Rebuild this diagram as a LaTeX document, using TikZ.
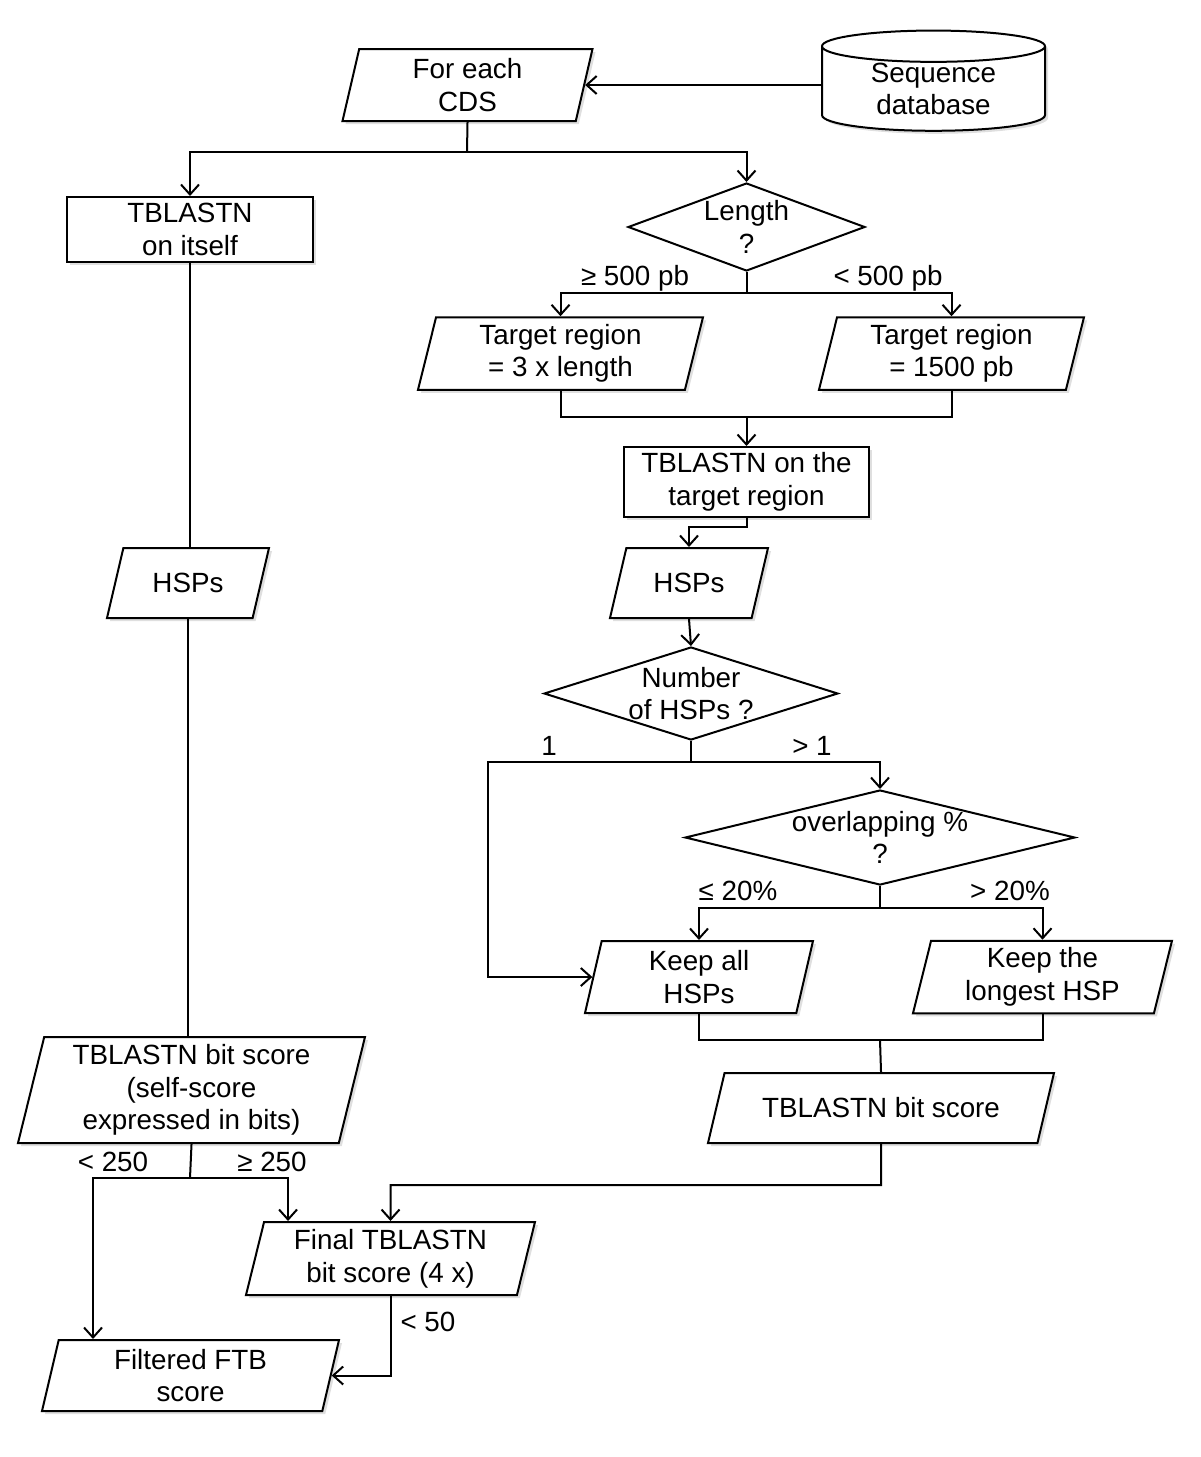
\documentclass[tikz,border=0pt]{standalone}
\usepackage{fontspec}
\setmainfont{Liberation Sans}
\usetikzlibrary{shapes.geometric,arrows.meta,shadows}

\begin{document}
\begin{tikzpicture}[x=0.5pt, y=-0.5pt,
    font=\fontsize{13.9}{16.3}\selectfont,
    every node/.style={align=center, inner sep=0pt},
    shade/.style={drop shadow={shadow xshift=1.5pt, shadow yshift=-1.5pt, opacity=0.25}},
    box/.style={draw, line width=1pt, fill=white, shade, rectangle},
    para/.style={draw, line width=1pt, fill=white, shade, trapezium,
        trapezium left angle=76, trapezium right angle=104,
        trapezium stretches body, inner xsep=0pt, inner ysep=3.5pt},
    para1/.style={para, inner ysep=11.5pt},
    decide/.style={draw, line width=1pt, fill=white, diamond,
        label={[align=center]center:#1}},
    dbase/.style={draw, line width=1pt, fill=white, shade, cylinder,
        shape border rotate=90, aspect=0.25},
    arr/.style={line width=1pt, -{Straight Barb[length=5pt,width=9pt]}},
    conn/.style={line width=1pt}]

\useasboundingbox (0,0) rectangle (1200,1457);

% Start
\node[para, minimum width=125pt, minimum height=36pt] (cds) at (467.5,85) {For each\\CDS};
\node[dbase, minimum width=111.5pt, minimum height=46pt] (db) at (933.5,89) {Sequence\\database};

% Left column
\node[box, minimum width=123pt, minimum height=32.5pt] (self) at (190,229.5) {TBLASTN\\on itself};
\node[para1, minimum width=81pt, minimum height=35pt] (hspL) at (188,583) {HSPs};
\node[para, minimum width=173.5pt, minimum height=53pt] (bitL) at (191.5,1090)
      {TBLASTN bit score\\(self-score\\expressed in bits)};

% Right column
\node[decide={Length\\?}, minimum width=118.5pt, minimum height=44pt] (len) at (746.5,227) {};
\node[para, minimum width=142.5pt, minimum height=35.5pt] (tr1) at (560.5,353.5) {Target region\\= 3 x length};
\node[para, minimum width=132.5pt, minimum height=35.5pt] (tr2) at (951.5,353.5) {Target region\\= 1500 pb};
\node[box, minimum width=122.5pt, minimum height=35pt] (tbt) at (746.5,482) {TBLASTN on the\\target region};
\node[para1, minimum width=79pt, minimum height=35pt] (hspR) at (689,583) {HSPs};
\node[decide={Number\\of HSPs ?}, minimum width=147pt, minimum height=46.5pt] (num) at (691,693.5) {};
\node[decide={overlapping \%\\?}, minimum width=195pt, minimum height=47.5pt] (ovl) at (880,837.5) {};
\node[para, minimum width=114pt, minimum height=36pt] (keepall) at (699,977) {Keep all\\HSPs};
\node[para, minimum width=129.5pt, minimum height=36pt] (keeplong) at (1042.5,977) {Keep the\\longest HSP};
\node[para1, minimum width=173pt, minimum height=35pt] (bitR) at (881,1108) {TBLASTN bit score};

% Bottom
\node[para, minimum width=144.5pt, minimum height=36.5pt] (final) at (390.5,1258.5) {Final TBLASTN\\bit score (4 x)};
\node[para, minimum width=148.5pt, minimum height=35.5pt] (filt) at (190.5,1375.5) {Filtered FTB\\score};

% Junctions
\coordinate (s1) at (467,152);
\coordinate (s2) at (746.5,293);
\coordinate (j1) at (746.5,417);
\coordinate (j2) at (746.5,527);
\coordinate (s3) at (691,762);
\coordinate (c1) at (488,762);
\coordinate (s4) at (880,908);
\coordinate (j3) at (880,1040);
\coordinate (j4) at (881,1185);
\coordinate (s5) at (190,1178);

% Connectors
\draw[arr] (db.west |- cds.east) -- (cds.east);
\draw[conn] (cds.south) -- (s1);
\draw[arr] (s1) -| (self.north);
\draw[arr] (s1) -| (len.north);
\draw[conn] (len.south) -- (s2);
\draw[arr] (s2) -| (tr1.north);
\draw[arr] (s2) -| (tr2.north);
\draw[conn] (tr1.south) |- (j1) -| (tr2.south);
\draw[arr] (j1) -- (tbt.north);
\draw[arr] (tbt.south) -- (j2) -| (hspR.north);
\draw[arr] (hspR.south) -- (num.north);
\draw[conn] (num.south) -- (s3);
\draw[arr] (s3) -| (ovl.north);
\draw[arr] (s3) -- (c1) |- (keepall.west);
\draw[conn] (ovl.south) -- (s4);
\draw[arr] (s4) -| (keepall.north);
\draw[arr] (s4) -| (keeplong.north);
\draw[conn] (keepall.south) |- (j3) -| (keeplong.south);
\draw[conn] (j3) -- (bitR.north);
\draw[arr] (bitR.south) -- (j4) -| (final.north);
\draw[conn] (self.south) -- (self.south |- hspL.north);
\draw[conn] (hspL.south) -- (hspL.south |- bitL.north);
\draw[conn] (bitL.south) -- (s5);
\draw[arr] (s5) -| ([xshift=-48.75pt]filt.north);
\draw[arr] (s5) -| ([xshift=-51.25pt]final.north);
\draw[arr] (final.south) |- (filt.east);

% Labels
\node (l500a) at (635,278) {≥ 500 pb};
\node (l500b) at (888,278) {< 500 pb};
\node (lone) at (549,746) {1};
\node (lmore) at (812,746) {> 1};
\node (l20a) at (738,891) {≤ 20\%};
\node (l20b) at (1010,891) {> 20\%};
\node (l250a) at (113,1162) {< 250};
\node (l250b) at (272,1162) {≥ 250};
\node (l50) at (428,1322) {< 50};

\end{tikzpicture}
\end{document}
